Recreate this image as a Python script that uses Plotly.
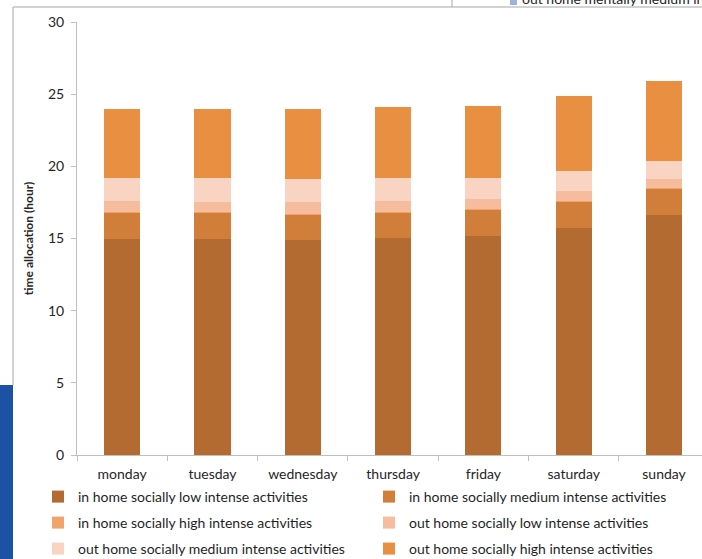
import plotly.graph_objects as go

# Weekly time allocation (hours), stacked by activity type
days = ["monday", "tuesday", "wednesday", "thursday", "friday", "saturday", "sunday"]

in_home_low = [14.96, 15.00, 14.89, 15.03, 15.14, 15.72, 16.64]
in_home_medium = [1.82, 1.81, 1.78, 1.75, 1.85, 1.85, 1.85]
in_home_high = [0.04, 0.04, 0.04, 0.04, 0.04, 0.04, 0.04]
out_home_low = [0.79, 0.69, 0.81, 0.79, 0.70, 0.67, 0.56]
out_home_medium = [1.55, 1.62, 1.57, 1.55, 1.43, 1.41, 1.29]
out_home_high = [4.78, 4.78, 4.85, 4.92, 5.01, 5.17, 5.50]

series = [
    ("in home socially low intense activities", in_home_low, "#B46B32", "legend"),
    ("in home socially medium intense activities", in_home_medium, "#D07E39", "legend"),
    ("in home socially high intense activities", in_home_high, "#F2A36B", "legend2"),
    ("out home socially low intense activities", out_home_low, "#F6BC9E", "legend2"),
    ("out home socially medium intense activities", out_home_medium, "#F9D4C3", "legend3"),
    ("out home socially high intense activities", out_home_high, "#E98F42", "legend3"),
]

FONT = "Lato"
W, H = 702, 559
ML, MR, MT, MB = 77, 0, 22, 104
PW, PH = W - ML - MR, H - MT - MB


def px(x):
    return (x - ML) / PW


def py(y):
    return (H - MB - y) / PH


fig = go.Figure()
for name, vals, color, leg in series:
    fig.add_trace(go.Bar(
        x=days, y=vals, name=name, marker_color=color,
        marker_line_width=0, legend=leg,
    ))

legend_common = dict(
    orientation="h", entrywidth=286, entrywidthmode="pixels",
    font=dict(family=FONT, size=14, color="#1F1F1F"),
    xanchor="left", yanchor="middle", traceorder="normal",
    bgcolor="rgba(0,0,0,0)", borderwidth=0,
)

fig.update_layout(
    width=W, height=H,
    margin=dict(l=ML, r=MR, t=MT, b=MB, pad=0, autoexpand=False),
    paper_bgcolor="white", plot_bgcolor="white",
    barmode="stack", bargap=0.6,
    font=dict(family=FONT, size=14, color="#262626"),
    legend=dict(x=px(38), y=py(497), **legend_common),
    legend2=dict(x=px(38), y=py(523), **legend_common),
    legend3=dict(x=px(38), y=py(549), **legend_common),
    xaxis=dict(
        range=[-0.5, 6.42], showline=True, linecolor="#BFBFBF", linewidth=1,
        ticks="outside", tickson="boundaries", ticklen=5, tickcolor="#BFBFBF",
        tickfont=dict(family=FONT, size=14, color="#262626"),
        ticklabelstandoff=6,
        showgrid=False, zeroline=False,
    ),
    yaxis=dict(
        range=[0, 30], dtick=5, showline=True, linecolor="#BFBFBF", linewidth=1,
        ticks="outside", ticklen=5, tickcolor="#BFBFBF",
        tickfont=dict(family=FONT, size=14, color="#262626"),
        ticklabelstandoff=4,
        showgrid=False, zeroline=False,
        title=dict(text="<b>time allocation (hour)</b>",
                   font=dict(family=FONT, size=12, color="#262626"), standoff=11),
    ),
)

# Surrounding frame, side panel and the neighbouring legend entry
line_style = dict(color="#A6A6A6", width=1)
fig.add_shape(type="rect", xref="paper", yref="paper",
              x0=px(0), x1=px(13), y0=py(H), y1=py(385),
              fillcolor="#1D51A6", line_width=0, layer="above")
fig.add_shape(type="line", xref="paper", yref="paper",
              x0=px(13), x1=px(13), y0=py(7), y1=py(385), line=line_style)
fig.add_shape(type="line", xref="paper", yref="paper",
              x0=px(13), x1=px(W), y0=py(7), y1=py(7), line=line_style)
fig.add_shape(type="line", xref="paper", yref="paper",
              x0=px(452), x1=px(452), y0=py(0), y1=py(7), line=line_style)
fig.add_shape(type="rect", xref="paper", yref="paper",
              x0=px(510), x1=px(517), y0=py(5), y1=py(-2),
              fillcolor="#9FB3DA", line_width=0)
fig.add_annotation(xref="paper", yref="paper", x=px(520), y=py(9),
                   xanchor="left", yanchor="bottom", showarrow=False,
                   text="out home mentally medium intense activities",
                   font=dict(family=FONT, size=14, color="#262626"))

fig.write_html("out.html")
